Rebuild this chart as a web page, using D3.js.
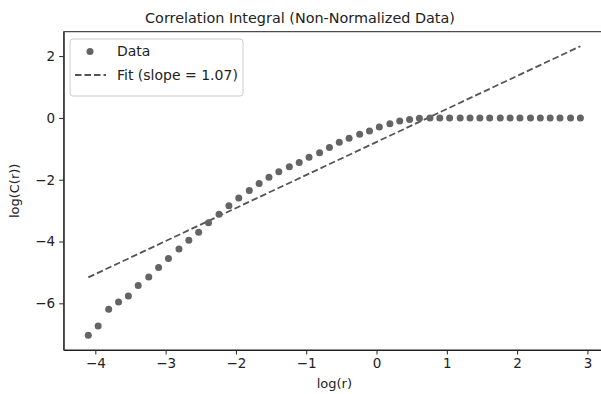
<!DOCTYPE html>
<html lang="en">
  <head>
    <meta charset="utf-8">
    <title>Correlation Integral</title>
    <script src="https://cdnjs.cloudflare.com/ajax/libs/d3/7.8.5/d3.min.js"></script>
    <style>
      body { margin: 0; background: #fff; }
      svg { display: block; overflow: hidden; }
      text { font-family: "DejaVu Sans", sans-serif; fill: #222; }
      .axis path, .axis line { stroke: #222; }
      .axis text { font-size: 13.5px; fill: #222; }
    </style>
  </head>
  <body>
    <svg width="601" height="394"></svg>
    <script>
    // log(r) values and log(C(r)) values
    var logR = [-4.10, -3.96, -3.81, -3.67, -3.53, -3.39, -3.24, -3.10, -2.96, -2.81,
                -2.67, -2.53, -2.39, -2.24, -2.10, -1.96, -1.81, -1.67, -1.53, -1.39,
                -1.24, -1.10, -0.96, -0.81, -0.67, -0.53, -0.39, -0.24, -0.10, 0.04,
                0.19, 0.33, 0.47, 0.61, 0.76, 0.90, 1.04, 1.19, 1.33, 1.47,
                1.61, 1.76, 1.90, 2.04, 2.19, 2.33, 2.47, 2.61, 2.76, 2.90];
    var logC = [-7.03, -6.73, -6.19, -5.96, -5.76, -5.42, -5.15, -4.84, -4.55, -4.24,
                -3.96, -3.70, -3.39, -3.12, -2.84, -2.59, -2.35, -2.12, -1.92, -1.74,
                -1.58, -1.44, -1.27, -1.13, -0.96, -0.79, -0.66, -0.53, -0.42, -0.29,
                -0.19, -0.10, -0.05, -0.01, 0, 0, 0, 0, 0, 0,
                0, 0, 0, 0, 0, 0, 0, 0, 0, 0];

    // fitted line end points
    var fitX = [-4.10, 2.90];
    var fitY = [-5.16, 2.32];
    var fitSlope = 1.07;

    var xTicks = [-4, -3, -2, -1, 0, 1, 2, 3];
    var yTicks = [-6, -4, -2, 0, 2];
    var xLim = [-4.45, 3.25];
    var yLim = [-7.51, 2.79];

    var svg = d3.select("svg"),
        margin = {top: 31.7, right: -4, bottom: 44, left: 63.7},
        width = +svg.attr("width") - margin.left - margin.right,
        height = +svg.attr("height") - margin.top - margin.bottom;

    var x = d3.scaleLinear().domain(xLim).range([0, width]),
        y = d3.scaleLinear().domain(yLim).range([height, 0]);

    var g = svg.append("g")
        .attr("transform", "translate(" + margin.left + "," + margin.top + ")");

    var pts = logR.map(function(d, i) { return {x: d, y: logC[i]}; });

    // fit line
    g.append("path")
        .datum(fitX.map(function(d, i) { return [d, fitY[i]]; }))
        .attr("fill", "none")
        .attr("stroke", "#555")
        .attr("stroke-width", 1.8)
        .attr("stroke-dasharray", "6.5,3")
        .attr("d", d3.line().x(function(d) { return x(d[0]); }).y(function(d) { return y(d[1]); }));

    // data points
    g.selectAll(".dot")
        .data(pts)
        .enter().append("circle")
          .attr("class", "dot")
          .attr("cx", function(d) { return x(d.x); })
          .attr("cy", function(d) { return y(d.y); })
          .attr("r", 3.5)
          .attr("fill", "#646464");

    // axes
    g.append("g")
        .attr("class", "axis axis--x")
        .attr("transform", "translate(0," + height + ")")
        .call(d3.axisBottom(x).tickValues(xTicks).tickSize(4.5).tickSizeOuter(0).tickPadding(4));

    g.append("g")
        .attr("class", "axis axis--y")
        .call(d3.axisLeft(y).tickValues(yTicks).tickSize(4.5).tickSizeOuter(0).tickPadding(4));

    // frame
    g.append("rect")
        .attr("width", width)
        .attr("height", height)
        .attr("fill", "none")
        .attr("stroke", "#222")
        .attr("stroke-width", 1);

    // labels
    svg.append("text")
        .attr("x", 300)
        .attr("y", 23)
        .attr("text-anchor", "middle")
        .style("font-size", "14.4px")
        .text("Correlation Integral (Non-Normalized Data)");

    svg.append("text")
        .attr("x", margin.left + width / 2)
        .attr("y", 388)
        .attr("text-anchor", "middle")
        .style("font-size", "13px")
        .text("log(r)");

    svg.append("text")
        .attr("transform", "translate(19," + (margin.top + height / 2) + ") rotate(-90)")
        .attr("text-anchor", "middle")
        .style("font-size", "13px")
        .text("log(C(r))");

    // legend
    var lg = svg.append("g").attr("transform", "translate(70,39)");
    lg.append("rect")
        .attr("width", 173)
        .attr("height", 57)
        .attr("rx", 3)
        .attr("fill", "#fff")
        .attr("fill-opacity", 0.8)
        .attr("stroke", "#ccc");
    lg.append("circle")
        .attr("cx", 20).attr("cy", 12.5).attr("r", 3.5).attr("fill", "#646464");
    lg.append("text")
        .attr("x", 47).attr("y", 17)
        .style("font-size", "14px")
        .text("Data");
    lg.append("line")
        .attr("x1", 5).attr("x2", 36).attr("y1", 36).attr("y2", 36)
        .attr("stroke", "#555").attr("stroke-width", 1.8)
        .attr("stroke-dasharray", "6.5,3");
    lg.append("text")
        .attr("x", 47).attr("y", 40.5)
        .style("font-size", "14px")
        .text("Fit (slope = " + fitSlope.toFixed(2) + ")");
    </script>
  </body>
</html>
